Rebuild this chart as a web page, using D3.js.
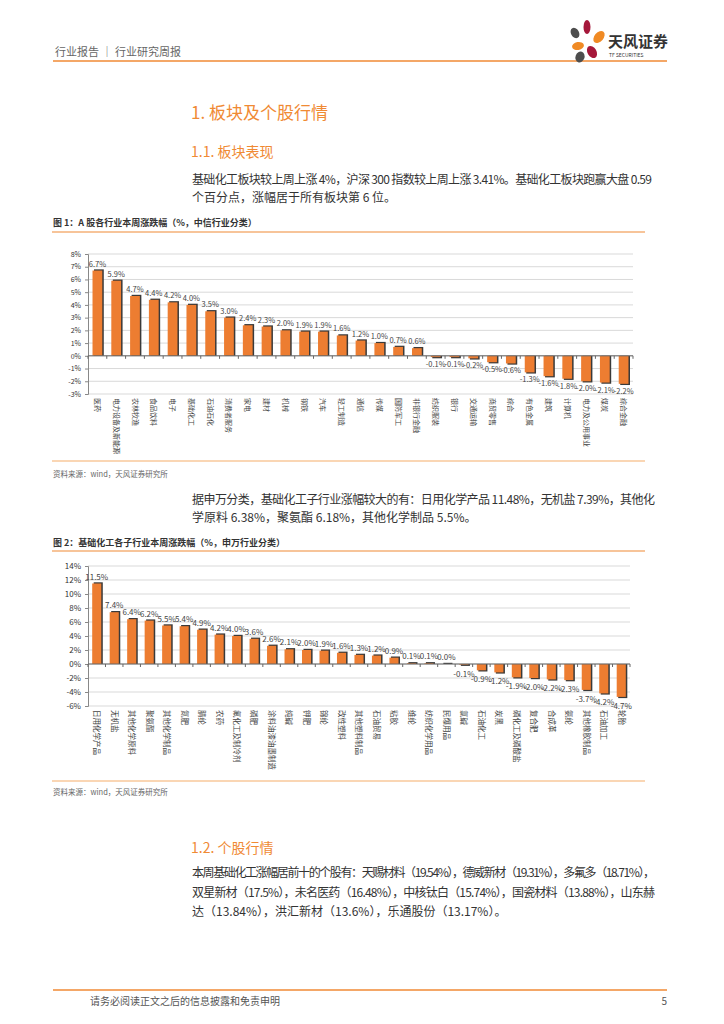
<!DOCTYPE html>
<html>
<head>
<meta charset="utf-8">
<script src="https://cdn.jsdelivr.net/npm/d3@7"></script>
<style>
body{margin:0;background:#fff;}
text{font-family:"Noto Sans CJK SC","Noto Sans",sans-serif;}
</style>
</head>
<body>
<svg id="page" width="724" height="1024"></svg>
<script>
// 图1 中信行业
var cat1 = ['医药','电力设备及新能源','农林牧渔','食品饮料','电子','基础化工','石油石化','消费者服务','家电','建材','机械','钢铁','汽车','轻工制造','通信','传媒','国防军工','非银行金融','纺织服装','银行','交通运输','商贸零售','综合','有色金属','建筑','计算机','电力及公用事业','煤炭','综合金融'];
var val1 = [6.7,5.9,4.7,4.4,4.2,4.0,3.5,3.0,2.4,2.3,2.0,1.9,1.9,1.6,1.2,1.0,0.7,0.6,-0.1,-0.1,-0.2,-0.5,-0.6,-1.3,-1.6,-1.8,-2.0,-2.1,-2.2];
var ticks1 = [8,7,6,5,4,3,2,1,0,-1,-2,-3];
// 图2 申万子行业
var cat2 = ['日用化学产品','无机盐','其他化学原料','聚氨酯','其他化学制品','氮肥','腈纶','农药','氟化工及制冷剂','磷肥','涂料油漆油墨制造','纯碱','钾肥','锦纶','改性塑料','其他塑料制品','石油贸易','粘胶','维纶','纺织化学用品','民爆用品','氯碱','石油化工','炭黑','磷化工及磷酸盐','复合肥','合成革','氨纶','其他橡胶制品','石油加工','轮胎'];
var val2 = [11.5,7.4,6.4,6.2,5.5,5.4,4.9,4.2,4.0,3.6,2.6,2.1,2.0,1.9,1.6,1.3,1.2,0.9,0.1,0.1,0.0,-0.1,-0.9,-1.2,-1.9,-2.0,-2.2,-2.3,-3.7,-4.2,-4.7];
var ticks2 = [14,12,10,8,6,4,2,0,-2,-4,-6];

var svg = d3.select('#page');
var orange = '#f08a34';
var barColor = '#ed7d31';

// header
svg.append('text').attr('x',55).attr('y',56).attr('font-size',11).attr('fill','#666').text('行业报告 ｜ 行业研究周报');
svg.append('line').attr('x1',53).attr('x2',667).attr('y1',61).attr('y2',61).attr('stroke',orange).attr('stroke-width',1.5);
var logo = svg.append('g');
var petals = [
	{cx:575,cy:33,rx:4,ry:5.5,r:-30,c:'#4d4d4d'},
	{cx:587,cy:27,rx:3.5,ry:7,r:0,c:'#a5173a'},
	{cx:599,cy:37,rx:4.5,ry:7,r:40,c:'#f08a24'},
	{cx:578,cy:46,rx:6,ry:4,r:-10,c:'#f08a24'},
	{cx:580,cy:57,rx:4.5,ry:5.5,r:20,c:'#4d4d4d'},
	{cx:592,cy:52,rx:4.5,ry:6.5,r:-30,c:'#a5173a'}
];
logo.selectAll('ellipse').data(petals).enter().append('ellipse')
	.attr('cx',function(d){return d.cx;}).attr('cy',function(d){return d.cy;})
	.attr('rx',function(d){return d.rx;}).attr('ry',function(d){return d.ry;})
	.attr('transform',function(d){return 'rotate('+d.r+','+d.cx+','+d.cy+')';})
	.attr('fill',function(d){return d.c;});
svg.append('text').attr('x',608).attr('y',47).attr('font-size',15).attr('font-weight','bold').attr('fill','#333').text('天风证券');
svg.append('text').attr('x',609).attr('y',57).attr('font-size',5).attr('fill','#333').text('TF SECURITIES');

// headings and paragraphs
function heading(txt, y, size) {
	svg.append('text').attr('x',191).attr('y',y).attr('font-size',size).attr('fill',orange).text(txt);
}
function para(lines, y0, lh) {
	lines.forEach(function(l, i) {
		var t = svg.append('text').attr('x',192).attr('y',y0+i*lh).attr('font-size',12).attr('fill','#333').text(l.t);
		if (l.w) t.attr('textLength',l.w).attr('lengthAdjust','spacing');
	});
}
heading('1. 板块及个股行情',119,17);
heading('1.1. 板块表现',157,14);
para([{t:'基础化工板块较上周上涨 4%，沪深 300 指数较上周上涨 3.41%。基础化工板块跑赢大盘 0.59',w:460},
	{t:'个百分点，涨幅居于所有板块第 6 位。'}],184,18);

function figTitle(txt, y, lineY) {
	svg.append('text').attr('x',53).attr('y',y).attr('font-size',9).attr('font-weight','bold').attr('fill','#333').text(txt);
	svg.append('line').attr('x1',52).attr('x2',645).attr('y1',lineY).attr('y2',lineY).attr('stroke',orange).attr('stroke-width',1.2);
}
function source(y, lineY) {
	svg.append('line').attr('x1',52).attr('x2',645).attr('y1',lineY).attr('y2',lineY).attr('stroke','#f9c89b').attr('stroke-width',1.5);
	svg.append('text').attr('x',53).attr('y',y).attr('font-size',7.5).attr('fill','#666').text('资料来源：wind，天风证券研究所');
}

figTitle('图 1：A 股各行业本周涨跌幅（%，中信行业分类）',226,232);

function barChart(cats, vals, ticks, opt) {
	var g = svg.append('g');
	var x = d3.scaleBand().domain(cats).range([opt.left, opt.right]).paddingInner(0.48).paddingOuter(0.24);
	var y = d3.scaleLinear().domain([ticks[ticks.length-1], ticks[0]]).range([opt.bottom, opt.top]);
	// grid
	g.selectAll('.grid').data(ticks).enter().append('line')
		.attr('x1',opt.left).attr('x2',opt.right)
		.attr('y1',function(d){return y(d);}).attr('y2',function(d){return y(d);})
		.attr('stroke','#d9d9d9').attr('stroke-width',1);
	// y axis
	var yAxis = d3.axisLeft(y).tickValues(ticks).tickSize(3).tickFormat(function(d){return d+'%';});
	var ya = g.append('g').attr('transform','translate('+opt.left+',0)').call(yAxis);
	ya.select('.domain').attr('stroke','#888');
	ya.selectAll('.tick line').attr('stroke','#888');
	ya.selectAll('.tick text').attr('font-size',opt.tickSize).attr('fill','#333').attr('font-family','"Liberation Sans",sans-serif').attr('x',-7);
	// bars
	var bars = g.selectAll('.bar').data(vals).enter().append('g');
	bars.append('rect')
		.attr('x',function(d,i){return x(cats[i])+1.5;})
		.attr('y',function(d){return d>=0 ? y(d)-1.2 : y(0);})
		.attr('width',x.bandwidth())
		.attr('height',function(d){return Math.abs(y(d)-y(0))+1.2;})
		.attr('fill','#3a3a3a');
	bars.append('rect')
		.attr('x',function(d,i){return x(cats[i]);})
		.attr('y',function(d){return d>=0 ? y(d) : y(0);})
		.attr('width',x.bandwidth())
		.attr('height',function(d){return Math.abs(y(d)-y(0));})
		.attr('fill',barColor);
	// zero axis with ticks at band edges
	g.append('line').attr('x1',opt.left).attr('x2',opt.right).attr('y1',y(0)).attr('y2',y(0)).attr('stroke','#666').attr('stroke-width',1);
	var edges = cats.map(function(c){return x(c)-x.step()*x.paddingInner()/2;}).concat([opt.right]);
	g.selectAll('.zt').data(edges).enter().append('line')
		.attr('x1',function(d){return d;}).attr('x2',function(d){return d;})
		.attr('y1',y(0)).attr('y2',y(0)+3).attr('stroke','#666');
	// value labels
	g.selectAll('.vl').data(vals).enter().append('text')
		.attr('x',function(d,i){return x(cats[i])+x.bandwidth()/2;})
		.attr('y',function(d){return d>=0 ? y(d)-4 : y(d)+opt.negOff;})
		.attr('text-anchor','middle').attr('font-size',opt.valSize)
		.attr('font-family','"Liberation Sans",sans-serif')
		.attr('fill','#444')
		.text(function(d){return d.toFixed(1)+'%';});
	// category labels (vertical)
	g.selectAll('.cl').data(cats).enter().append('text')
		.attr('transform',function(d){return 'translate('+(x(d)+x.bandwidth()/2)+','+opt.labelY+') rotate(90)';})
		.attr('dy','0.35em').attr('font-size',opt.catSize).attr('fill','#444')
		.text(function(d){return d;});
}

barChart(cat1, val1, ticks1, {left:88, right:633, top:254, bottom:394, tickSize:7, valSize:7.5, catSize:7, negOff:10, labelY:398});
source(477,461);

para([{t:'据申万分类，基础化工子行业涨幅较大的有：日用化学产品 11.48%，无机盐 7.39%，其他化',w:463},
	{t:'学原料 6.38%，聚氨酯 6.18%，其他化学制品 5.5%。'}],504,18);

figTitle('图 2：基础化工各子行业本周涨跌幅（%，申万行业分类）',546,551);
barChart(cat2, val2, ticks2, {left:88, right:630, top:566, bottom:706, tickSize:8, valSize:8, catSize:7.5, negOff:12, labelY:710});
source(795,781);

heading('1.2. 个股行情',853,14);
para([{t:'本周基础化工涨幅居前十的个股有：天赐材料（19.54%），德威新材（19.31%），多氟多（18.71%），',w:463},
	{t:'双星新材（17.5%），未名医药（16.48%），中核钛白（15.74%），国瓷材料（13.88%），山东赫',w:463},
	{t:'达（13.84%），洪汇新材（13.6%），乐通股份（13.17%）。'}],877,19.5);

// footer
svg.append('line').attr('x1',53).attr('x2',667).attr('y1',990).attr('y2',990).attr('stroke',orange).attr('stroke-width',1.5);
svg.append('text').attr('x',90).attr('y',1005).attr('font-size',10).attr('fill','#555').text('请务必阅读正文之后的信息披露和免责申明');
svg.append('text').attr('x',667).attr('y',1005).attr('font-size',10).attr('text-anchor','end').attr('fill','#555').text('5');
</script>
</body>
</html>
